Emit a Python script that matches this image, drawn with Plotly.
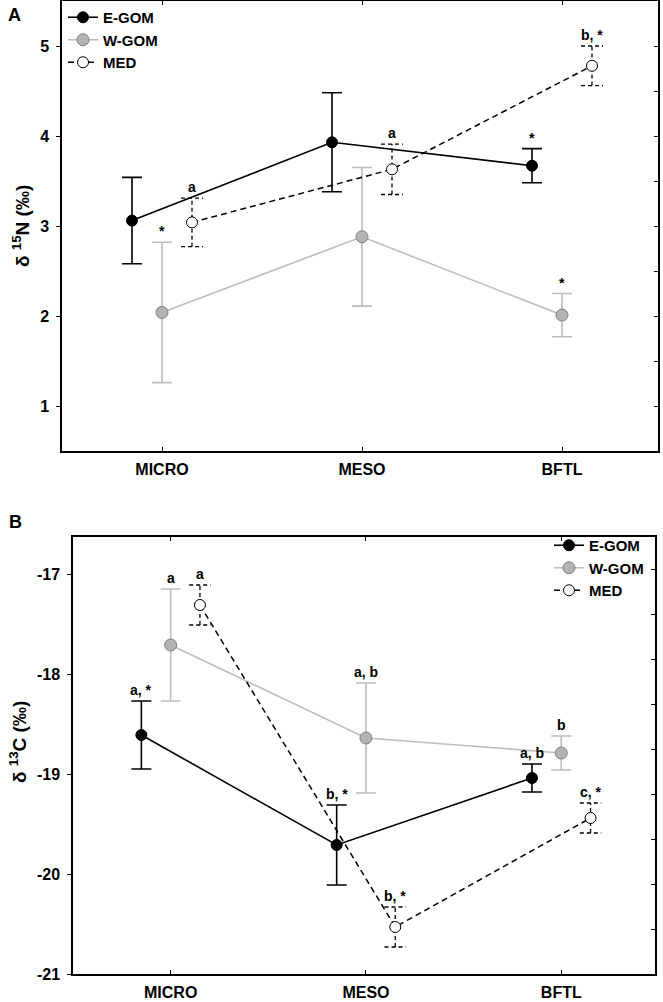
import plotly.graph_objects as go

# ---------------- data ----------------
categories = ["MICRO", "MESO", "BFTL"]
groups = ["E-GOM", "W-GOM", "MED"]

# Panel A: delta 15N
a_ticks = [1, 2, 3, 4, 5]
a_egom = [3.06, 3.93, 3.67]
a_egom_err = [0.48, 0.55, 0.19]
a_wgom = [2.04, 2.88, 2.01]
a_wgom_err = [0.78, 0.77, 0.24]
a_med = [3.04, 3.63, 4.78]
a_med_err = [0.27, 0.28, 0.22]
a_labels_egom = ["", "", "*"]
a_labels_wgom = ["*", "", "*"]
a_labels_med = ["a", "a", "b, *"]

# Panel B: delta 13C
b_ticks = [-21, -20, -19, -18, -17]
b_egom = [-18.61, -19.71, -19.04]
b_egom_err = [0.34, 0.40, 0.14]
b_wgom = [-17.71, -18.64, -18.79]
b_wgom_err = [0.56, 0.55, 0.17]
b_med = [-17.31, -20.53, -19.44]
b_med_err = [0.20, 0.20, 0.15]
b_labels_egom = ["a, *", "b, *", "a, b"]
b_labels_wgom = ["a", "a, b", "b"]
b_labels_med = ["a", "b, *", "c, *"]

# ---------------- styling ----------------
W, H = 663, 1002
FONT = "Liberation Sans, Arial, sans-serif"
OFFS = {"E-GOM": -0.15, "W-GOM": 0.0, "MED": 0.15}
STYLE = {
    "E-GOM": dict(line=dict(color="black", width=1.6),
                  marker=dict(color="black", size=11, line=dict(color="black", width=1))),
    "W-GOM": dict(line=dict(color="#bdbdbd", width=1.6),
                  marker=dict(color="#b3b3b3", size=12, line=dict(color="#7f7f7f", width=1))),
    "MED": dict(line=dict(color="black", width=1.5, dash="6px,4px"),
                marker=dict(color="white", size=11, line=dict(color="black", width=1))),
}
ERRCOL = {"E-GOM": "black", "W-GOM": "#bdbdbd"}

def px_x(p):
    return p / W

def px_y(p):
    return 1 - p / H

fig = go.Figure()

def add_panel(xa, ya, vals, errs, labels, legend):
    idx = list(range(len(categories)))
    for g in groups:
        xs = [i + OFFS[g] for i in idx]
        ys, es = vals[g], errs[g]
        if g == "MED":
            hw = 0.055
            ex, ey = [], []
            for x, y, e in zip(xs, ys, es):
                ex += [x, x, None, x - hw, x + hw, None, x - hw, x + hw, None]
                ey += [y - e, y + e, None, y + e, y + e, None, y - e, y - e, None]
            fig.add_trace(go.Scatter(x=ex, y=ey, mode="lines", xaxis=xa, yaxis=ya,
                                     line=dict(color="black", width=1.3, dash="4px,3px"),
                                     showlegend=False, hoverinfo="skip"))
            fig.add_trace(go.Scatter(x=xs, y=ys, mode="lines+markers", name=g,
                                     xaxis=xa, yaxis=ya, legend=legend, **STYLE[g]))
        else:
            fig.add_trace(go.Scatter(x=xs, y=ys, mode="lines+markers", name=g,
                                     xaxis=xa, yaxis=ya, legend=legend,
                                     error_y=dict(type="data", array=es, visible=True,
                                                  color=ERRCOL[g], thickness=1.6, width=10),
                                     **STYLE[g]))
        for x, y, e, t in zip(xs, ys, es, labels[g]):
            if t:
                fig.add_annotation(x=x, y=y + e, xref=xa, yref=ya, text="<b>" + t + "</b>",
                                   showarrow=False, xanchor="center", yanchor="bottom", yshift=1,
                                   font=dict(family=FONT, size=14, color="black"))

add_panel("x", "y",
          {"E-GOM": a_egom, "W-GOM": a_wgom, "MED": a_med},
          {"E-GOM": a_egom_err, "W-GOM": a_wgom_err, "MED": a_med_err},
          {"E-GOM": a_labels_egom, "W-GOM": a_labels_wgom, "MED": a_labels_med},
          "legend")
add_panel("x2", "y2",
          {"E-GOM": b_egom, "W-GOM": b_wgom, "MED": b_med},
          {"E-GOM": b_egom_err, "W-GOM": b_wgom_err, "MED": b_med_err},
          {"E-GOM": b_labels_egom, "W-GOM": b_labels_wgom, "MED": b_labels_med},
          "legend2")

# dummy traces for right-hand minor tick axes
fig.add_trace(go.Scatter(x=[None], y=[None], xaxis="x", yaxis="y3", showlegend=False, hoverinfo="skip"))
fig.add_trace(go.Scatter(x=[None], y=[None], xaxis="x2", yaxis="y4", showlegend=False, hoverinfo="skip"))

tickfont = dict(family=FONT, size=16, color="black", weight="bold")
xcommon = dict(range=[-0.5, 2.48], tickmode="array", tickvals=[0, 1, 2], ticktext=categories,
               ticks="inside", ticklen=4, tickcolor="black", mirror="ticks", showline=True,
               linecolor="black", linewidth=1.5, showgrid=False, zeroline=False,
               tickfont=dict(family=FONT, size=16, color="black", weight="bold"),
               ticklabelstandoff=3)
ycommon = dict(ticks="outside", ticklen=4, tickcolor="black", mirror=True, showline=True,
               linecolor="black", linewidth=1.5, showgrid=False, zeroline=False,
               tickfont=tickfont, ticklabelstandoff=4, tickmode="array")

legfont = dict(family=FONT, size=15, color="black", weight="bold")

fig.update_layout(
    width=W, height=H, margin=dict(l=0, r=0, t=0, b=0, autoexpand=False),
    paper_bgcolor="white", plot_bgcolor="white",
    font=dict(family=FONT, color="black"),
    xaxis=dict(domain=[px_x(62), px_x(658)], anchor="y", **xcommon),
    yaxis=dict(domain=[px_y(451), px_y(1)], anchor="x", range=[0.5, 5.5],
               tickvals=a_ticks, ticktext=[str(v) for v in a_ticks], **ycommon),
    yaxis3=dict(overlaying="y", side="right", anchor="x", range=[0.5, 5.5],
                tickmode="linear", tick0=0.5, dtick=0.5, ticks="inside", ticklen=4,
                tickcolor="black", showticklabels=False, showline=False, showgrid=False,
                zeroline=False),
    xaxis2=dict(domain=[px_x(73), px_x(655)], anchor="y2", **xcommon),
    yaxis2=dict(domain=[px_y(974), px_y(537)], anchor="x2", range=[-21, -16.63],
                tickvals=b_ticks, ticktext=[str(v) for v in b_ticks], **ycommon),
    yaxis4=dict(overlaying="y2", side="right", anchor="x2", range=[-21, -16.63],
                tickmode="linear", tick0=-21, dtick=0.45, ticks="inside", ticklen=4,
                tickcolor="black", showticklabels=False, showline=False, showgrid=False,
                zeroline=False),
    legend=dict(x=px_x(63), y=px_y(1), xanchor="left", yanchor="top",
                bgcolor="rgba(0,0,0,0)", borderwidth=0, tracegroupgap=0,
                font=legfont, itemwidth=30),
    legend2=dict(x=px_x(549), y=px_y(529), xanchor="left", yanchor="top",
                 bgcolor="rgba(0,0,0,0)", borderwidth=0, tracegroupgap=0,
                 font=legfont, itemwidth=30),
    showlegend=True,
)

# panel letters and axis titles
def label(x, y, text, size, angle=0):
    fig.add_annotation(x=px_x(x), y=px_y(y), xref="paper", yref="paper", text=text,
                       textangle=angle, showarrow=False, xanchor="center", yanchor="middle",
                       font=dict(family=FONT, size=size, color="black"))

label(14, 15, "<b>A</b>", 18)
label(15, 522, "<b>B</b>", 18)
label(21, 226, "<b>δ <sup>15</sup>N (‰)</b>", 19, -90)
label(18, 742, "<b>δ <sup>13</sup>C (‰)</b>", 19, -90)

# remove the browser's default page margin so the figure fills the window exactly
fig.write_html("out.html", config={"displayModeBar": False},
               post_script="document.body.style.margin='0px';")
